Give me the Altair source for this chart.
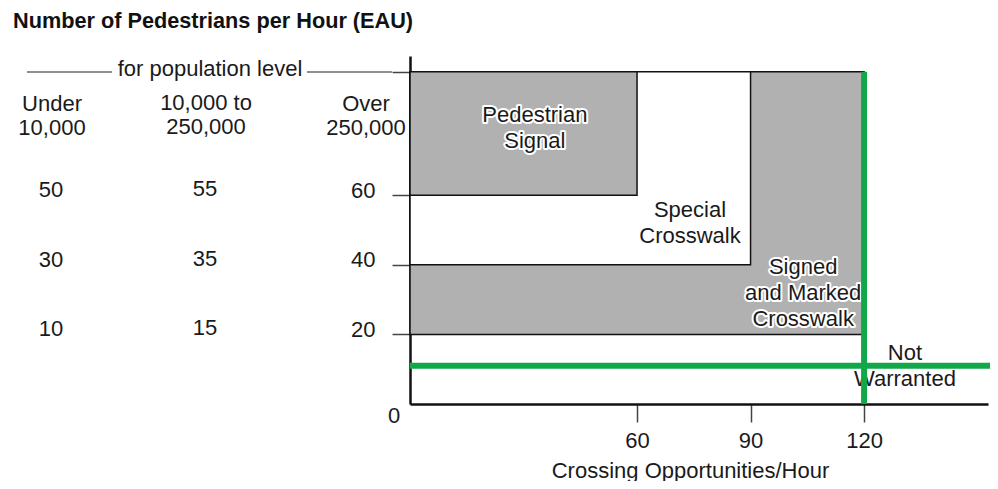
import altair as alt
import pandas as pd

FONT = "Liberation Sans"
GRAY = "#b1b1b1"
GREEN = "#12a84a"
INK = "#1a1a1a"

# ---- data ----
# Pedestrian (EAU/hour) thresholds by population level
eau_under_10k = [50, 30, 10]
eau_10k_250k = [55, 35, 15]
eau_over_250k = [60, 40, 20]
pop_headers = ["Under\n10,000", "10,000 to\n250,000", "Over\n250,000"]
pop_group_label = "for population level"

# axes
x_ticks = [60, 90, 120]
y_ticks = [20, 40, 60]
y_cap = 95.5          # top of the treatment regions
x_max = 152.75
y_max = 100

# treatment regions, drawn in this order
region_order = [1, 2, 3]
region_x1 = [0, 0, 0]
region_x2 = [120, 90, 60]
region_y1 = [20, 40, 60]
region_y2 = [y_cap, y_cap, y_cap]
region_fill = [GRAY, "#ffffff", GRAY]

# region labels (position of the first text line)
label_text = ["Pedestrian\nSignal", "Special\nCrosswalk",
              "Signed\nand Marked\nCrosswalk", "Not\nWarranted"]
label_x = [33.0, 74.0, 103.9, 130.8]
label_y = [83.0, 55.7, 39.4, 14.7]

# warrant threshold lines
warrant_x = 120
warrant_y = 11

W, H = 578, 348

regions = pd.DataFrame({"order": region_order, "x1": region_x1, "x2": region_x2,
                        "y1": region_y1, "y2": region_y2, "fill": region_fill})

x_scale = alt.Scale(domain=[0, x_max], nice=False, zero=False)
y_scale = alt.Scale(domain=[0, y_max], nice=False, zero=False)

x_axis = alt.Axis(values=x_ticks, tickSize=18, tickWidth=1.5, tickColor="#444",
                  domainColor="#111", domainWidth=2.5, grid=False,
                  labelFont=FONT, labelFontSize=22, labelColor=INK,
                  labelBaseline="alphabetic", labelPadding=25, labelOverlap=False,
                  title="Crossing Opportunities/Hour", titleFont=FONT,
                  titleFontSize=22, titleFontWeight="normal", titleColor=INK,
                  titleX=280, titleY=73, titleBaseline="alphabetic")
y_axis = alt.Axis(values=y_ticks + [y_cap], tickSize=18, tickWidth=1.5, tickColor="#444",
                  domainColor="#111", domainWidth=2.5, grid=False,
                  labelFont=FONT, labelFontSize=22, labelColor=INK,
                  labelBaseline="alphabetic", labelOffset=2, labelPadding=17,
                  labelOverlap=False,
                  labelExpr="datum.value > 90 ? '' : datum.label", title=None)


def X(field):
    return alt.X(field, scale=x_scale, axis=x_axis)


def Y(field):
    return alt.Y(field, scale=y_scale, axis=y_axis)


rects = alt.Chart(regions).mark_rect(stroke="#111", strokeWidth=1.5).encode(
    x=X("x1:Q"), x2="x2:Q", y=Y("y1:Q"), y2="y2:Q",
    fill=alt.Fill("fill:N", scale=None),
    order=alt.Order("order:Q"),
)

labels = pd.DataFrame({"text": label_text, "x": label_x, "y": label_y})
lbl_base = alt.Chart(labels).encode(x=X("x:Q"), y=Y("y:Q"), text="text:N")
halo = lbl_base.mark_text(font=FONT, fontSize=22, lineBreak="\n", lineHeight=26,
                          align="center", baseline="middle", fill="white",
                          stroke="white", strokeWidth=4, strokeJoin="round")
lbl = lbl_base.mark_text(font=FONT, fontSize=22, lineBreak="\n", lineHeight=26,
                         align="center", baseline="middle", color=INK)

vline = alt.Chart(pd.DataFrame({"x": [warrant_x], "y": [0], "y2": [y_cap]})).mark_rule(
    color=GREEN, strokeWidth=6).encode(x=X("x:Q"), y=Y("y:Q"), y2="y2:Q")
hline = alt.Chart(pd.DataFrame({"x": [0], "y": [warrant_y]})).mark_rule(
    color=GREEN, strokeWidth=6).encode(x=X("x:Q"), x2=alt.value(W + 2), y=Y("y:Q"))

table = pd.DataFrame({"over": eau_over_250k, "low": eau_under_10k, "mid": eau_10k_250k})
col_low = alt.Chart(table).mark_text(font=FONT, fontSize=22, align="center",
                                     baseline="alphabetic", dy=2, color=INK).encode(
    x=alt.value(-359), y=Y("over:Q"), text="low:Q")
col_mid = alt.Chart(table).mark_text(font=FONT, fontSize=22, align="center",
                                     baseline="alphabetic", dy=1, color=INK).encode(
    x=alt.value(-205), y=Y("over:Q"), text="mid:Q")

header_x = [-358, -204, -44]
header_y = [55, 54, 55]
headers = []
for h, hx, hy in zip(pop_headers, header_x, header_y):
    headers.append(
        alt.Chart(pd.DataFrame({"t": [h]})).mark_text(
            font=FONT, fontSize=22, lineBreak="\n", lineHeight=24, align="center",
            baseline="alphabetic", color=INK).encode(
            x=alt.value(hx), y=alt.value(hy), text="t:N"))

grp = alt.Chart(pd.DataFrame({"t": [pop_group_label]})).mark_text(
    font=FONT, fontSize=22, align="center", baseline="alphabetic", color=INK).encode(
    x=alt.value(-200), y=alt.value(20), text="t:N")
dash_l = alt.Chart(pd.DataFrame({"t": [0]})).mark_rule(color="#222", strokeWidth=1.2).encode(
    x=alt.value(-383), x2=alt.value(-298), y=alt.value(16))
dash_r = alt.Chart(pd.DataFrame({"t": [0]})).mark_rule(color="#222", strokeWidth=1.2).encode(
    x=alt.value(-103), x2=alt.value(-18), y=alt.value(16))

zero = alt.Chart(pd.DataFrame({"x": [0], "y": [0], "t": ["0"]})).mark_text(
    font=FONT, fontSize=22, align="center", baseline="alphabetic", dx=-16, dy=19,
    color=INK).encode(x=X("x:Q"), y=Y("y:Q"), text="t:N")

chart = alt.layer(
    rects, halo, lbl, vline, hline, col_low, col_mid, *headers, grp, dash_l, dash_r, zero
).properties(
    width=W, height=H,
    background="white",
    title=alt.TitleParams("Number of Pedestrians per Hour (EAU)", anchor="start",
                          frame="group", dx=-397, offset=23, font=FONT, fontSize=21.7,
                          fontWeight="bold", color="#111"),
    autosize=alt.AutoSizeParams(type="none"),
    padding={"left": 402, "top": 48, "right": 2, "bottom": 77},
).configure_view(stroke="transparent", strokeWidth=0)

chart.save("out.html", embed_options={"renderer": "svg", "actions": False})
